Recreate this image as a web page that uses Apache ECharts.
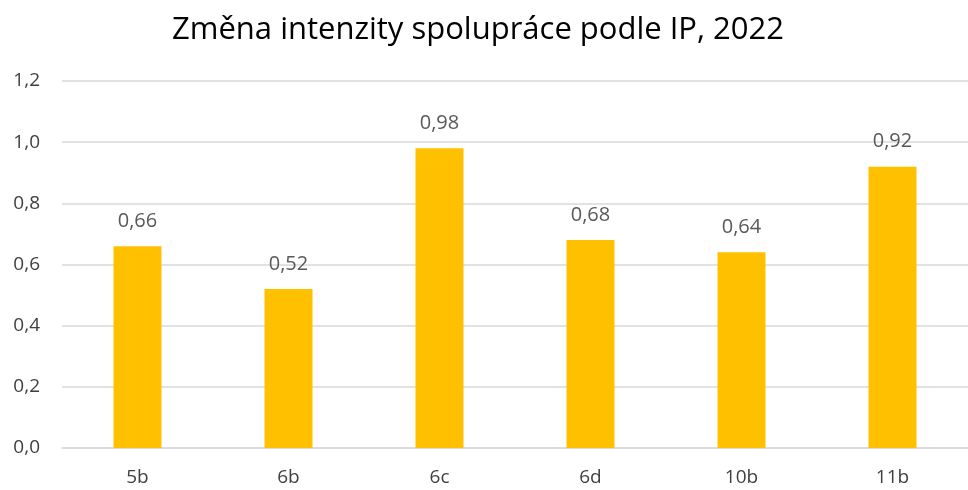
<!DOCTYPE html>
<html><head><meta charset="utf-8">
<script src="https://cdn.jsdelivr.net/npm/echarts@6/dist/echarts.min.js"></script>
<style>html,body{margin:0;padding:0;background:#fff}#c{width:968px;height:490px}</style>
</head><body><div id="c"></div>
<script>
const categories = ['5b','6b','6c','6d','10b','11b'];
const values = [0.66,0.52,0.98,0.68,0.64,0.92];
const yTicks = {min:0,max:1.2,interval:0.2};
const fmt = v => v.toFixed(2).replace('.', ',');
const chart = echarts.init(document.getElementById('c'));
chart.setOption({
  animation:false,
  title:{text:'Změna intenzity spolupráce podle IP, 2022',left:473,top:10,textAlign:'center',
    textStyle:{fontFamily:'Open Sans',fontSize:31,fontWeight:'normal',color:'#000'}},
  grid:{left:62,top:81,width:916,bottom:42},
  xAxis:{type:'category',data:categories,
    axisLine:{lineStyle:{color:'#d9d9d9',width:1.5}},axisTick:{show:false},
    axisLabel:{fontFamily:'Open Sans',fontSize:19,color:'#404040',margin:20}},
  yAxis:{type:'value',min:yTicks.min,max:yTicks.max,interval:yTicks.interval,
    splitLine:{lineStyle:{color:'#d9d9d9',width:1.5}},
    axisLabel:{fontFamily:'Open Sans',fontSize:19,color:'#404040',margin:22,formatter:v=>v.toFixed(1).replace('.',',')}},
  series:[{type:'bar',data:values,barWidth:48,itemStyle:{color:'#FFC000'},
    label:{show:true,position:'top',distance:15,fontFamily:'Open Sans',fontSize:20,color:'#595959',formatter:p=>fmt(p.value)}}]
});
</script></body></html>
